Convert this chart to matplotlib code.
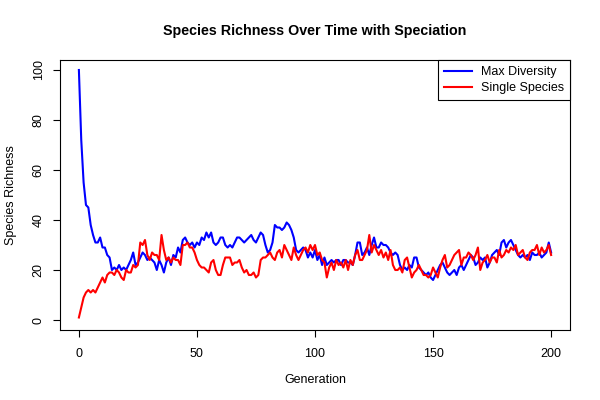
import numpy as np
import matplotlib
matplotlib.use("Agg")
import matplotlib.pyplot as plt

plt.rcParams['font.family'] = ['Liberation Sans', 'DejaVu Sans']

# values, one row of ten generations per line
max_diversity = [
    100, 72, 55, 46, 45, 38, 34, 31, 31, 33,
    29, 29, 26, 25, 20, 21, 20, 22, 20, 21,
    20, 22, 24, 27, 22, 23, 25, 27, 26, 24,
    25, 24, 23, 20, 24, 22, 19, 23, 25, 22,
    26, 25, 29, 27, 32, 33, 31, 30, 31, 29,
    31, 30, 33, 32, 35, 33, 35, 31, 30, 31,
    33, 33, 30, 29, 30, 29, 31, 33, 33, 32,
    31, 32, 33, 34, 32, 31, 33, 35, 34, 30,
    27, 28, 31, 38, 37, 37, 36, 37, 39, 38,
    36, 33, 28, 27, 28, 29, 28, 25, 27, 25,
    28, 24, 26, 22, 25, 22, 23, 24, 23, 24,
    24, 22, 24, 24, 23, 23, 22, 26, 31, 31,
    26, 27, 29, 26, 30, 33, 29, 29, 31, 30,
    30, 29, 27, 26, 27, 26, 22, 20, 21, 20,
    22, 21, 25, 25, 21, 20, 19, 18, 19, 17,
    16, 18, 20, 22, 23, 21, 19, 18, 19, 20,
    18, 21, 22, 20, 22, 24, 26, 25, 22, 23,
    25, 24, 25, 21, 23, 26, 27, 28, 26, 31,
    32, 29, 31, 32, 30, 28, 26, 25, 26, 25,
    26, 24, 27, 26, 26, 27, 25, 26, 27, 31,
    27,
]

single_species = [
    1, 5, 9, 11, 12, 11, 12, 11, 13, 15,
    17, 15, 18, 19, 19, 18, 20, 19, 17, 16,
    20, 19, 19, 22, 21, 22, 31, 30, 32, 26,
    24, 27, 26, 26, 24, 34, 28, 24, 25, 23,
    25, 24, 24, 22, 30, 30, 31, 29, 29, 27,
    24, 22, 21, 21, 20, 19, 23, 24, 20, 18,
    18, 22, 25, 25, 25, 22, 23, 23, 24, 21,
    19, 20, 18, 18, 19, 17, 18, 24, 25, 25,
    26, 27, 25, 24, 27, 28, 25, 30, 28, 26,
    24, 29, 26, 24, 26, 28, 29, 27, 30, 28,
    30, 26, 27, 24, 23, 17, 21, 23, 20, 24,
    22, 23, 21, 24, 20, 24, 22, 26, 28, 24,
    24, 26, 28, 34, 27, 30, 28, 26, 28, 25,
    27, 24, 28, 22, 20, 20, 21, 19, 24, 25,
    21, 17, 19, 20, 22, 20, 18, 18, 17, 18,
    21, 19, 17, 21, 24, 26, 21, 22, 24, 26,
    27, 28, 22, 25, 25, 27, 26, 24, 26, 29,
    20, 23, 24, 26, 23, 25, 25, 23, 28, 25,
    26, 28, 27, 29, 28, 30, 26, 27, 28, 25,
    24, 27, 28, 28, 30, 26, 29, 27, 28, 30,
    26,
]

generation = np.arange(len(max_diversity))

fig = plt.figure(figsize=(6, 4), dpi=100)
ax = fig.add_axes([0.1, 0.175, 0.85, 0.675])

ax.plot(generation, max_diversity, color='blue', lw=1.5, label='Max Diversity')
ax.plot(generation, single_species, color='red', lw=1.5, label='Single Species')

ax.set_xlim(-8, 208)
ax.set_ylim(-4, 104)
ax.set_xticks([0, 50, 100, 150, 200])
ax.set_yticks([0, 20, 40, 60, 80, 100])
ax.set_yticklabels(['0', '20', '40', '60', '80', '100'], rotation=90, va='center')
ax.tick_params(labelsize=9, length=5, direction='out')
ax.tick_params(axis='x', pad=8)
ax.tick_params(axis='y', pad=6)

for s in ax.spines.values():
    s.set_linewidth(0.8)

ax.set_xlabel('Generation', fontsize=9, labelpad=10)
ax.set_ylabel('Species Richness', fontsize=9, labelpad=11)
ax.set_title('Species Richness Over Time with Speciation', fontsize=10.3,
             fontweight='bold', pad=18)

leg = ax.legend(loc='upper right', fancybox=False, edgecolor='black',
                fontsize=9, borderaxespad=0, handlelength=2.2, framealpha=1,
                borderpad=0.5, labelspacing=0.3, handletextpad=0.7)
leg.get_frame().set_linewidth(0.8)

fig.savefig('out.png', dpi=100)
